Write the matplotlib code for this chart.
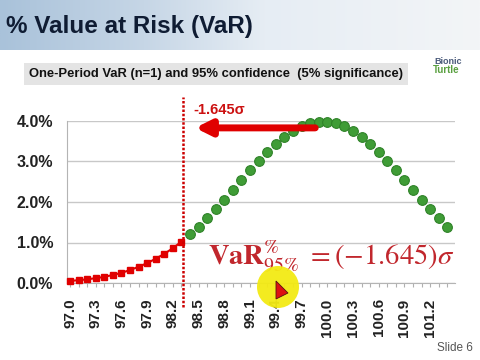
import matplotlib
matplotlib.use("Agg")
import matplotlib.pyplot as plt
import numpy as np
from matplotlib.colors import LinearSegmentedColormap
from matplotlib.patches import Ellipse, Polygon

plt.rcParams['font.family'] = ['Liberation Sans', 'DejaVu Sans']
plt.rcParams['mathtext.fontset'] = 'stix'

# Return outcomes (category labels) and probability of each outcome, in %
categories = [97.0, 97.1, 97.2, 97.3, 97.4, 97.5, 97.6, 97.7, 97.8, 97.9,
              98.0, 98.1, 98.2, 98.3, 98.4, 98.5, 98.6, 98.7, 98.8, 98.9,
              99.0, 99.1, 99.2, 99.3, 99.4, 99.5, 99.6, 99.7, 99.8, 99.9,
              100.0, 100.1, 100.2, 100.3, 100.4, 100.5, 100.6, 100.7, 100.8, 100.9,
              101.0, 101.1, 101.2, 101.3, 101.4]
probs = [0.05, 0.07, 0.09, 0.12, 0.15, 0.20, 0.25, 0.32, 0.40, 0.49,
         0.60, 0.72, 0.86, 1.02, 1.20, 1.39, 1.60, 1.83, 2.06, 2.30,
         2.54, 2.78, 3.01, 3.23, 3.43, 3.61, 3.75, 3.87, 3.95, 3.98,
         3.98, 3.95, 3.87, 3.75, 3.61, 3.43, 3.23, 3.01, 2.78, 2.54,
         2.30, 2.06, 1.83, 1.60, 1.39]
n_tail = 14            # outcomes in the 5% tail (red)
var_pos = 13.2         # category position of the VaR cut-off
y_ticks = [0.0, 1.0, 2.0, 3.0, 4.0]

W, H = 480, 360
fig = plt.figure(figsize=(4.8, 3.6), dpi=100)

# title band with gradient
band = fig.add_axes([0, 1 - 50 / H, 1, 50 / H])
cmap = LinearSegmentedColormap.from_list(
    'band', [(0, '#a9c2da'), (0.3, '#c6d6e6'), (0.55, '#e6edf4'), (1, '#f3f5f7')])
band.imshow(np.linspace(0, 1, 256)[None, :], aspect='auto', cmap=cmap,
            extent=[0, 1, 0, 1])
band.axis('off')
fig.text(6 / W, 1 - 27 / H, '% Value at Risk (VaR)', fontsize=17.5,
         fontweight='bold', color='#0f1c33', va='center', ha='left')

# subtitle box
fig.text(29 / W, 1 - 74 / H,
         'One-Period VaR (n=1) and 95% confidence  (5% significance)',
         fontsize=9.4, fontweight='bold', color='#111111', va='center', ha='left',
         bbox=dict(boxstyle='square,pad=0.4', facecolor='#e4e4e4', edgecolor='none'))

# logo text
fig.text(448 / W, 1 - 61 / H, 'Bionic', fontsize=6.5, fontweight='bold',
         color='#4a5a7a', ha='center', va='center')
fig.text(446 / W, 1 - 70 / H, 'Turtle', fontsize=7, fontweight='bold',
         color='#5aa040', ha='center', va='center')

# chart
ax = fig.add_axes([67 / W, 1 - 283 / H, (455 - 67) / W, 162 / H])
idx = np.arange(len(categories))
ax.plot(idx[:n_tail], probs[:n_tail], color='#e00000', lw=1.5, marker='s',
        markersize=4.5, clip_on=False, zorder=3)
ax.plot(idx[n_tail:], probs[n_tail:], linestyle='none', marker='o',
        markersize=7, markerfacecolor='#3f9c36', markeredgecolor='#2f8228',
        markeredgewidth=0.8, clip_on=False, zorder=3)

ax.set_xlim(-0.35, len(categories) - 0.1)
ax.set_ylim(0, 4.0)
ax.set_yticks(y_ticks)
ax.set_yticklabels([f'{v:.1f}%' for v in y_ticks], fontsize=11.5,
                   fontweight='bold', color='#222222')
ax.set_xticks(idx)
ax.set_xticklabels([f'{c:.1f}' if i % 3 == 0 else '' for i, c in enumerate(categories)],
                   rotation=90, fontsize=11, fontweight='bold', color='#222222')
ax.tick_params(axis='x', length=3, color='#b0b0b0', pad=8)
ax.tick_params(axis='y', length=0, pad=10)
ax.grid(axis='y', color='#c8c8c8', lw=1)
ax.set_axisbelow(True)
for s in ['top', 'right']:
    ax.spines[s].set_visible(False)
ax.spines['left'].set_color('#b4b4b4')
ax.spines['bottom'].set_color('#b4b4b4')

# VaR cut-off line
ax.axvline(var_pos, ymin=-0.15, ymax=1.15, color='#cc0000', lw=1.8,
           linestyle=(0, (1, 0.7)), clip_on=False, zorder=4)

# arrow from mean to VaR
ax.annotate('', xy=(var_pos + 1.4, 3.83), xytext=(var_pos + 15.4, 3.83),
            arrowprops=dict(arrowstyle='-|>,head_length=0.9,head_width=0.45',
                            color='#e00000', lw=5, shrinkA=0, shrinkB=0),
            annotation_clip=False, zorder=5)
ax.text(var_pos + 1.2, 4.28, '-1.645σ', fontsize=10.5, fontweight='bold',
        color='#cc1111', ha='left', va='center', clip_on=False)

# formula
ax.text(var_pos + 2.9, 0.64, r'$\mathbf{VaR}_{95\%}^{\%}\ =(-1.645)\sigma$',
        fontsize=20.5, color='#c1272d', ha='left', va='center')

# cursor highlight
fig.patches.append(Ellipse((278 / W, 1 - 287 / H), 42 / W, 42 / H,
                           transform=fig.transFigure, facecolor='#f3ea14',
                           edgecolor='none', alpha=0.95, zorder=10))
fig.patches.append(Polygon([(276 / W, 1 - 281 / H), (276 / W, 1 - 299 / H),
                            (288 / W, 1 - 293 / H)], closed=True,
                           transform=fig.transFigure, facecolor='#dd1111',
                           edgecolor='#551111', lw=0.6, zorder=11))

fig.text(473 / W, 1 - 348 / H, 'Slide 6', fontsize=8.5, color='#555555',
         ha='right', va='center')

fig.savefig('out.png', dpi=100)
